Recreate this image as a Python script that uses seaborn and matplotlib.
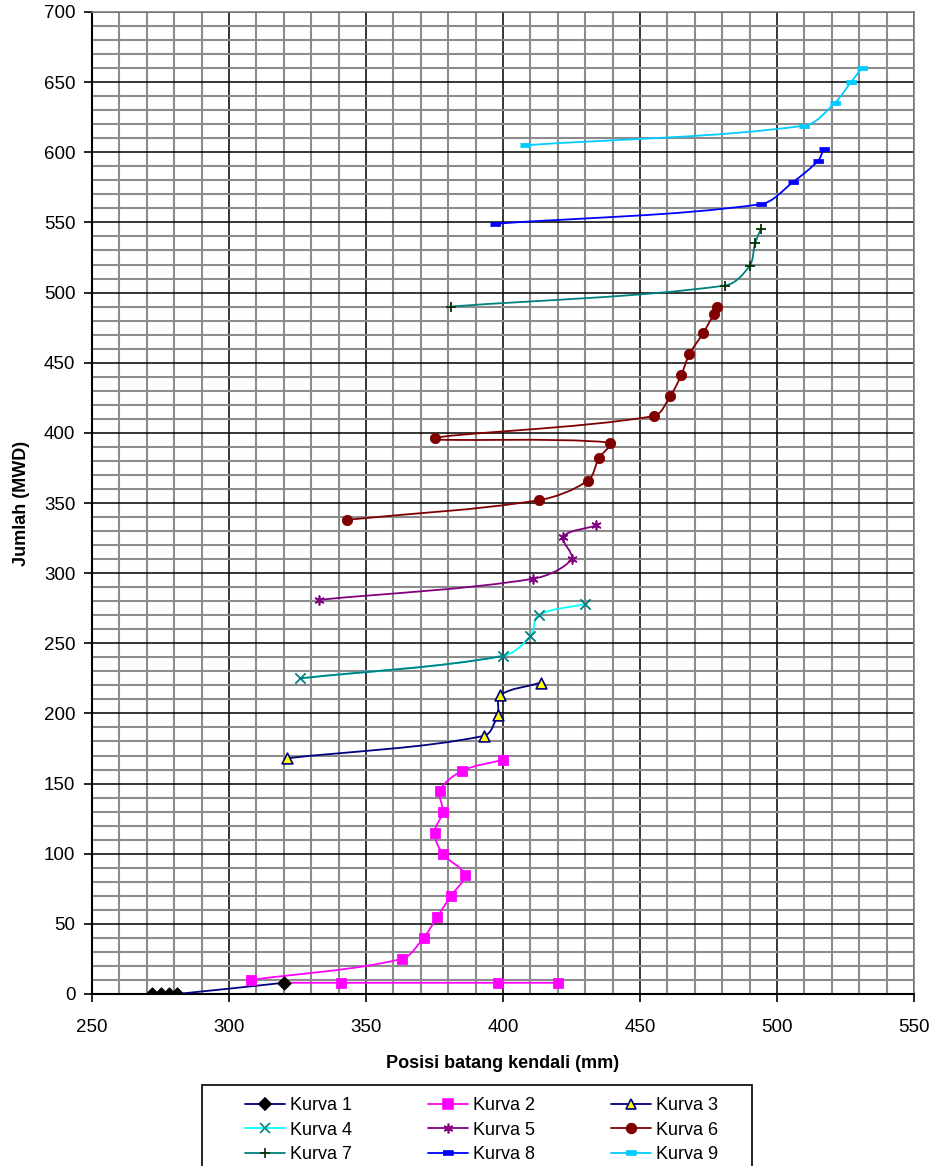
import numpy as np
import pandas as pd
import seaborn as sns
import matplotlib.pyplot as plt
from matplotlib.path import Path
from matplotlib.patches import PathPatch, Rectangle
from matplotlib.lines import Line2D
from matplotlib.ticker import MultipleLocator

# values: control rod position (mm) vs MWD
k1_x = [272, 275, 278, 281, 320]
k1_y = [0, 0, 0, 0, 8]
k2_x = [341, 398, 420, 308, 363, 371, 376, 381, 386, 378, 375, 378, 377, 385, 400]
k2_y = [8, 8, 8, 10, 25, 40, 55, 70, 85, 100, 115, 130, 145, 159, 167]
k3_x = [321, 393, 398, 399, 414]
k3_y = [168, 184, 199, 213, 222]
k4_x = [326, 400, 410, 413, 430]
k4_y = [225, 241, 255, 270, 278]
k5_x = [333, 411, 425, 422, 434]
k5_y = [281, 296, 310, 326, 334]
k6_x = [343, 413, 431, 435, 439, 375, 455, 461, 465, 468, 473, 477, 478]
k6_y = [338, 352, 366, 382, 393, 396, 412, 426, 441, 456, 471, 485, 490]
k7_x = [381, 481, 490, 492, 494]
k7_y = [490, 505, 519, 535, 545]
k8_x = [397, 494, 506, 515, 517]
k8_y = [549, 563, 579, 594, 602]
k9_x = [408, 510, 521, 527, 531]
k9_y = [605, 619, 635, 650, 660]

labels = ["Kurva %d" % i for i in range(1, 10)]

# px per data unit, only used to weigh segment lengths for the smoothing
SX, SY = 2.74, 1.403


def smooth_path(xs, ys):
    # excel-like smoothed line: bezier, tangents weighted by segment length
    p = np.column_stack([xs, ys]).astype(float)
    n = len(p)
    scale = np.array([SX, SY])

    def seglen(a, b):
        return np.hypot(*((b - a) * scale))

    def ctrl(i, fwd):
        prev = p[i - 1] if i > 0 else p[i]
        nxt = p[i + 1] if i + 1 < n else p[i]
        dp, dn = seglen(prev, p[i]), seglen(p[i], nxt)
        if dp + dn == 0:
            return p[i]
        t = nxt - prev
        if fwd:
            return p[i] + t * dn / (dp + dn) / 3
        return p[i] - t * dp / (dp + dn) / 3

    verts = [p[0]]
    codes = [Path.MOVETO]
    for i in range(n - 1):
        verts += [ctrl(i, True), ctrl(i + 1, False), p[i + 1]]
        codes += [Path.CURVE4] * 3
    return np.array(verts), codes


def draw_line(ax, xs, ys, color, lw=1.3):
    v, c = smooth_path(xs, ys)
    ax.add_patch(PathPatch(Path(v, c), fill=False, edgecolor=color, lw=lw, zorder=3))
    return v


sns.set_theme(style="white")
plt.rcParams['font.family'] = ['Liberation Sans', 'DejaVu Sans']
plt.rcParams['text.color'] = 'black'
plt.rcParams['axes.labelcolor'] = 'black'
plt.rcParams['xtick.color'] = 'black'
plt.rcParams['ytick.color'] = 'black'

fig = plt.figure(figsize=(9.33, 11.66), dpi=100)
ax = fig.add_axes([92 / 933, 1 - 994 / 1166, 822 / 933, 982 / 1166])

navy = "#000080"
dash = [(-1, -0.35), (1, -0.35), (1, 0.35), (-1, 0.35)]

# lines
draw_line(ax, k1_x, k1_y, navy)
draw_line(ax, [k1_x[-1]] + k2_x[:3], [k1_y[-1]] + k2_y[:3], "#FF00FF")
draw_line(ax, k2_x[3:], k2_y[3:], "#FF00FF")
draw_line(ax, k3_x, k3_y, navy)
v4 = draw_line(ax, k4_x, k4_y, "#00FFFF")
# first segment of kurva 4 is teal in the original
ax.add_patch(PathPatch(Path(v4[:4], [Path.MOVETO] + [Path.CURVE4] * 3), fill=False,
                       edgecolor="#008080", lw=1.3, zorder=3))
draw_line(ax, k5_x, k5_y, "#800080")
draw_line(ax, k6_x, k6_y, "#800000")
draw_line(ax, k7_x, k7_y, "#008080")
draw_line(ax, k8_x, k8_y, "#0000FF")
draw_line(ax, k9_x, k9_y, "#00CCFF")

# markers
styles = [
    (k1_x, k1_y, dict(marker="D", s=48, color="black", edgecolor="black")),
    (k2_x, k2_y, dict(marker="s", s=50, color="#FF00FF", edgecolor="#FF00FF")),
    (k3_x, k3_y, dict(marker="^", s=60, color="#FFFF00", edgecolor=navy, linewidth=1.2)),
    (k4_x, k4_y, dict(marker="x", s=55, color="#008080", linewidth=1.3)),
    (k5_x, k5_y, dict(marker=(6, 2, 0), s=40, color="#800080", linewidth=1.2)),
    (k6_x, k6_y, dict(marker="o", s=55, color="#800000", edgecolor="#800000")),
    (k7_x, k7_y, dict(marker="+", s=45, color="#003300", linewidth=1.3)),
    (k8_x, k8_y, dict(marker=dash, s=45, color="#0000FF", edgecolor="#0000FF")),
    (k9_x, k9_y, dict(marker=dash, s=55, color="#00CCFF", edgecolor="#00CCFF")),
]
for xs, ys, kw in styles:
    sns.scatterplot(x=xs, y=ys, ax=ax, zorder=4, legend=False, **kw)

ax.set_xlim(250, 550)
ax.set_ylim(0, 700)
ax.xaxis.set_major_locator(MultipleLocator(50))
ax.yaxis.set_major_locator(MultipleLocator(50))
ax.xaxis.set_minor_locator(MultipleLocator(10))
ax.yaxis.set_minor_locator(MultipleLocator(10))
ax.grid(which="minor", color="#8c8c8c", lw=1.5, zorder=0)
ax.grid(which="major", color="black", lw=1.1, zorder=1)
ax.set_axisbelow(True)
ax.tick_params(which="major", direction="out", length=6, width=1.2, color="black",
               labelsize=13.5, bottom=True, left=True)
ax.tick_params(axis="x", which="major", pad=12)
ax.tick_params(axis="y", which="major", pad=6)
ax.tick_params(which="minor", length=0)
for s in ["left", "bottom"]:
    ax.spines[s].set_color("black")
    ax.spines[s].set_linewidth(1.5)
for s in ["top", "right"]:
    ax.spines[s].set_color("#808080")
    ax.spines[s].set_linewidth(1.2)

ax.set_xlabel("Posisi batang kendali (mm)", fontsize=13, fontweight="bold", labelpad=14)
ax.set_ylabel("Jumlah (MWD)", fontsize=13, fontweight="bold", labelpad=10)

# legend, row by row like the original
line_cols = [navy, "#FF00FF", navy, "#00FFFF", "#800080",
             "#800000", "#008080", "#0000FF", "#00CCFF"]
handles = []
for (xs, ys, kw), lc in zip(styles, line_cols):
    mk = kw["marker"]
    filled = mk not in ("x", "+", (6, 2, 0))
    handles.append(Line2D([], [], color=lc, lw=1.3, marker=mk,
                          markersize=7 if mk != "D" else 6,
                          markerfacecolor=kw["color"] if filled else "none",
                          markeredgecolor=kw.get("edgecolor", kw["color"]),
                          markeredgewidth=1.2))
order = [0, 3, 6, 1, 4, 7, 2, 5, 8]
fig.patches.append(Rectangle((202 / 933, 1 - 1175 / 1166), 550 / 933, 90 / 1166,
                             transform=fig.transFigure, fill=False, edgecolor="black",
                             lw=1.2))
fig.legend(handles=[handles[i] for i in order], labels=[labels[i] for i in order],
           ncol=3, frameon=False, fontsize=13,
           loc="upper left", bbox_to_anchor=(236 / 933, 1 - 1088 / 1166),
           handlelength=2.2, handletextpad=0.3, columnspacing=4.2, labelspacing=0.42,
           borderpad=0)

fig.savefig("out.png", dpi=100)
